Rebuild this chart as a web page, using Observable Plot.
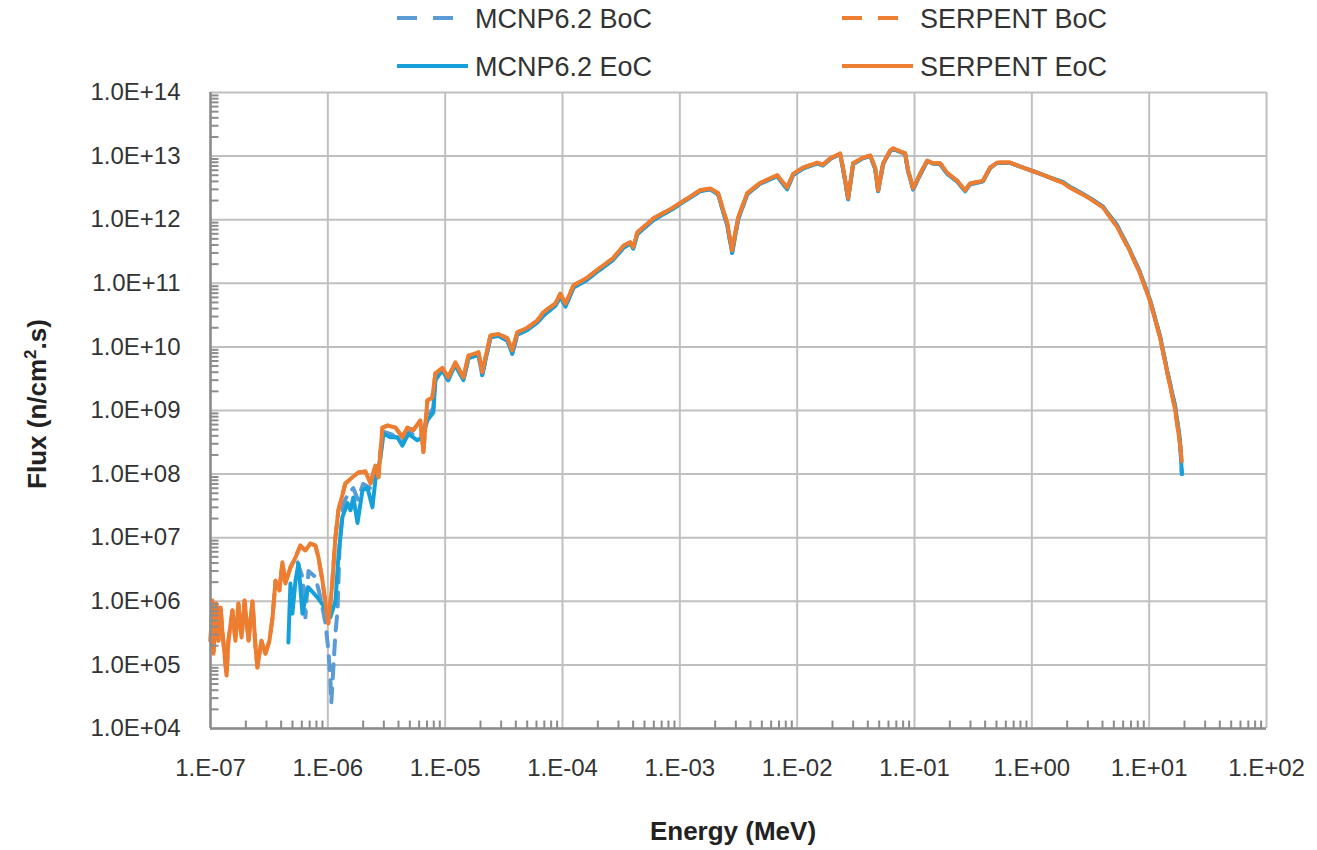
<!DOCTYPE html>
<html>
<head>
<meta charset="utf-8">
<script src="https://cdn.jsdelivr.net/npm/d3@7"></script>
<script src="https://cdn.jsdelivr.net/npm/@observablehq/plot@0.6"></script>
<style>
  body { margin: 0; background: #fff; }
  #wrap { position: relative; width: 1317px; height: 850px; font-family: "Liberation Sans", Arial, sans-serif; }
  #wrap > svg { position: absolute; left: 0; top: 0; }
</style>
</head>
<body>
<div id="wrap"></div>
<script>
// ---------- data (energy in MeV, flux in n/cm2.s) ----------
const serpentLowE = [1.00e-7,1.04e-7,1.06e-7,1.12e-7,1.17e-7,1.22e-7,1.26e-7,1.37e-7,1.42e-7,1.54e-7,1.63e-7,1.73e-7,1.84e-7,1.95e-7,2.11e-7,2.28e-7,2.42e-7,2.51e-7,2.72e-7,2.94e-7,3.18e-7,3.38e-7,3.58e-7,3.87e-7,4.10e-7,4.35e-7,4.80e-7,5.30e-7,5.84e-7,6.44e-7,7.11e-7,7.84e-7,8.32e-7,9.00e-7,9.73e-7,1.01e-6,1.09e-6,1.16e-6,1.23e-6,1.41e-6,1.62e-6,1.82e-6,2.09e-6,2.31e-6,2.54e-6,2.70e-6,2.92e-6,3.22e-6,3.77e-6,4.32e-6,4.76e-6,5.36e-6,6.15e-6,6.52e-6,7.05e-6,7.78e-6];
const serpentLowEoC = [2.4e5,1.03e6,1.5e5,9.2e5,2.4e5,8.0e5,3.5e5,6.8e4,2.4e5,7.2e5,2.4e5,9.2e5,2.7e5,1.03e6,2.4e5,1.0e6,1.9e5,9.1e4,2.4e5,1.5e5,2.4e5,5.6e5,2.1e6,1.48e6,4.1e6,1.9e6,3.4e6,4.9e6,7.5e6,6.3e6,8.1e6,7.5e6,4.9e6,2.1e6,7.2e5,4.5e5,1.9e6,1.0e7,2.7e7,7.1e7,8.9e7,1.06e8,1.1e8,7.1e7,1.36e8,8.9e7,5.4e8,5.8e8,5.4e8,3.8e8,5.4e8,4.9e8,7.0e8,2.2e8,1.44e9,1.6e9];
const serpentLowBoC = [2.4e5,1.03e6,1.5e5,9.2e5,2.4e5,8.0e5,3.5e5,6.8e4,2.4e5,7.2e5,2.4e5,9.2e5,2.7e5,1.03e6,2.4e5,1.0e6,1.9e5,9.1e4,2.4e5,1.5e5,2.4e5,5.6e5,2.1e6,1.48e6,4.1e6,1.9e6,3.4e6,4.9e6,7.5e6,6.3e6,8.1e6,7.5e6,4.9e6,2.1e6,7.2e5,4.5e5,1.9e6,1.0e7,2.7e7,7.1e7,8.9e7,1.06e8,1.1e8,7.1e7,1.36e8,8.9e7,5.4e8,5.8e8,5.4e8,3.8e8,5.4e8,4.9e8,7.0e8,2.2e8,1.44e9,1.6e9];

const mcnpEoCLowE = [4.61e-7,4.80e-7,4.99e-7,5.30e-7,5.62e-7,6.08e-7,6.44e-7,6.84e-7,8.15e-7,9.55e-7,1.05e-6,1.16e-6,1.23e-6,1.33e-6,1.47e-6,1.56e-6,1.65e-6,1.79e-6,1.97e-6,2.17e-6,2.40e-6,2.54e-6,2.81e-6,2.98e-6,3.41e-6,3.92e-6,4.32e-6,4.86e-6,5.80e-6,6.40e-6,7.05e-6,7.93e-6];
const mcnpEoCLow = [2.25e5,1.9e6,6.4e5,2.1e6,3.9e6,6.4e5,1.15e6,1.65e6,1.15e6,7.7e5,5.6e5,1.0e6,4.9e6,2.1e7,3.5e7,2.7e7,4.3e7,1.7e7,5.5e7,6.2e7,3.0e7,7.9e7,1.8e8,4.3e8,3.8e8,3.8e8,2.8e8,4.3e8,3.4e8,3.8e8,7.0e8,9.3e8];

const mcnpBoCLowE = [5.51e-7,6.08e-7,6.44e-7,6.84e-7,7.84e-7,8.65e-7,9.55e-7,1.01e-6,1.05e-6,1.07e-6,1.12e-6,1.16e-6,1.21e-6,1.26e-6,1.36e-6,1.50e-6,1.65e-6,1.80e-6,2.00e-6,2.30e-6,2.54e-6,2.85e-6,3.00e-6,3.50e-6,4.30e-6,4.90e-6,5.80e-6,6.40e-6,7.05e-6,7.93e-6];
const mcnpBoCLow = [4.1e6,2.4e6,5.6e5,3.0e6,2.4e6,1.15e6,4.5e5,1.7e5,6.3e4,2.5e4,1.05e5,3.1e5,7.2e5,8.0e6,3.5e7,5.0e7,6.0e7,4.0e7,7.0e7,6.0e7,9.0e7,2.5e8,4.6e8,4.2e8,3.2e8,4.6e8,3.8e8,4.2e8,8.0e8,1.1e9];

const hiE = [8.25e-6,9.47e-6,1.06e-5,1.22e-5,1.43e-5,1.58e-5,1.92e-5,2.07e-5,2.43e-5,2.84e-5,3.39e-5,3.73e-5,4.12e-5,5.01e-5,6.10e-5,6.86e-5,7.57e-5,8.68e-5,9.57e-5,1.06e-4,1.24e-4,1.63e-4,2.10e-4,2.71e-4,3.30e-4,3.78e-4,4.01e-4,4.34e-4,5.93e-4,8.79e-4,1.16e-3,1.49e-3,1.82e-3,2.12e-3,2.54e-3,2.79e-3,3.14e-3,3.75e-3,4.84e-3,6.76e-3,8.22e-3,9.25e-3,1.13e-2,1.48e-2,1.66e-2,1.91e-2,2.32e-2,2.46e-2,2.72e-2,3.00e-2,3.65e-2,4.19e-2,4.62e-2,4.90e-2,5.40e-2,6.20e-2,6.57e-2,8.32e-2,8.83e-2,9.74e-2,0.112,0.128,0.144,0.165,0.193,0.231,0.270,0.298,0.384,0.441,0.506,0.652,0.841,1.11,1.43,1.84,2.11,3.13,4.04,5.32,6.86,8.35,10.2,12.4,14.5,16.6,18.3,19.0];
const serpentHi = [3.8e9,4.7e9,3.3e9,5.7e9,3.3e9,7.3e9,8.2e9,4.0e9,1.5e10,1.6e10,1.36e10,8.8e9,1.7e10,2.0e10,2.6e10,3.5e10,4.0e10,4.8e10,6.9e10,4.8e10,9.2e10,1.23e11,1.77e11,2.5e11,3.9e11,4.4e11,3.7e11,6.3e11,1.04e12,1.56e12,2.15e12,2.9e12,3.1e12,2.6e12,8.7e11,3.3e11,1.08e12,2.6e12,3.8e12,5.0e12,3.2e12,5.3e12,6.6e12,7.9e12,7.3e12,9.2e12,1.1e13,6.6e12,2.2e12,7.7e12,9.5e12,1.02e13,6.6e12,2.9e12,7.7e12,1.22e13,1.32e13,1.1e13,5.9e12,3.1e12,5.3e12,8.5e12,7.7e12,7.7e12,5.3e12,4.1e12,2.9e12,3.7e12,4.1e12,6.6e12,7.9e12,7.9e12,6.6e12,5.5e12,4.6e12,3.8e12,3.2e12,2.15e12,1.56e12,7.8e11,3.2e11,1.43e11,5.2e10,1.4e10,3.4e9,1.07e9,3.0e8,1.6e8];
const mcnpHi = [3.0e9,4.3e9,3.0e9,5.2e9,3.0e9,6.6e9,7.6e9,3.6e9,1.4e10,1.5e10,1.25e10,7.8e9,1.55e10,1.85e10,2.4e10,3.1e10,3.6e10,4.4e10,6.2e10,4.3e10,8.5e10,1.15e11,1.65e11,2.35e11,3.6e11,4.2e11,3.5e11,5.9e11,9.8e11,1.5e12,2.1e12,2.8e12,3.0e12,2.5e12,8.0e11,3.0e11,1.0e12,2.5e12,3.7e12,4.8e12,3.0e12,5.1e12,6.4e12,7.7e12,7.1e12,9.0e12,1.08e13,6.3e12,2.1e12,7.5e12,9.3e12,1.0e13,6.3e12,2.8e12,7.5e12,1.2e13,1.3e13,1.08e13,5.7e12,3.0e12,5.1e12,8.3e12,7.6e12,7.5e12,5.1e12,4.0e12,2.8e12,3.6e12,4.0e12,6.5e12,7.8e12,7.8e12,6.6e12,5.5e12,4.6e12,3.9e12,3.3e12,2.2e12,1.6e12,8.2e11,3.3e11,1.5e11,5.4e10,1.45e10,3.6e9,1.2e9,3.5e8,1.0e8];

const xTicks = [1e-7,1e-6,1e-5,1e-4,1e-3,1e-2,1e-1,1e0,1e1,1e2];
const yTicks = [1e4,1e5,1e6,1e7,1e8,1e9,1e10,1e11,1e12,1e13,1e14];
const seriesNames = ["MCNP6.2 BoC","SERPENT BoC","MCNP6.2 EoC","SERPENT EoC"];

// ---------- build tables ----------
function rows(es, fs) {
  const n = Math.min(es.length, fs.length);
  const out = [];
  for (let i = 0; i < n; i++) out.push({E: es[i], F: fs[i]});
  return out;
}
const mcnpBoC = rows(mcnpBoCLowE, mcnpBoCLow).concat(rows(hiE, mcnpHi));
const mcnpEoC = rows(mcnpEoCLowE, mcnpEoCLow).concat(rows(hiE, mcnpHi));
const serpBoC = rows(serpentLowE, serpentLowBoC).concat(rows(hiE, serpentHi));
const serpEoC = rows(serpentLowE, serpentLowEoC).concat(rows(hiE, serpentHi));

const minorX = [], minorY = [];
for (let k = -7; k < 2; k++) for (let m = 2; m <= 9; m++) minorX.push(m * Math.pow(10, k));
for (let k = 4; k < 14; k++) for (let m = 2; m <= 9; m++) minorY.push(m * Math.pow(10, k));

const pad2 = n => String(Math.abs(n)).padStart(2, "0");
const fmtX = d => { const e = Math.round(Math.log10(d)); return `1.E${e < 0 ? "-" : "+"}${pad2(e)}`; };
const fmtY = d => { const e = Math.round(Math.log10(d)); return `1.0E${e < 0 ? "-" : "+"}${pad2(e)}`; };

const C = {mBoC: "#5b9bd5", mEoC: "#16a0da", s: "#ed7d31"};
const tickRight = {draw(ctx) { ctx.moveTo(0, 0); ctx.lineTo(8, 0); }};
const tickUp = {draw(ctx) { ctx.moveTo(0, 0); ctx.lineTo(0, -8); }};
const axisGray = "#8c8c8c";
const LW = 4;

const chart = Plot.plot({
  width: 1317, height: 850,
  marginLeft: 210, marginRight: 51, marginTop: 92, marginBottom: 122,
  x: {type: "log", domain: [1e-7, 1e2]},
  y: {type: "log", domain: [1e4, 1e14]},
  style: {fontFamily: "'Liberation Sans', Arial, sans-serif", fontSize: "24px", color: "#333", background: "transparent"},
  marks: [
    Plot.ruleX(xTicks, {stroke: "#c0c0c0", strokeWidth: 2}),
    Plot.ruleY(yTicks, {stroke: "#c0c0c0", strokeWidth: 2}),
    Plot.line(mcnpBoC, {x: "E", y: "F", stroke: C.mBoC, strokeWidth: LW, strokeDasharray: "14,10", strokeLinejoin: "round"}),
    Plot.line(serpBoC, {x: "E", y: "F", stroke: C.s, strokeWidth: LW, strokeDasharray: "14,10", strokeLinejoin: "round"}),
    Plot.line(mcnpEoC, {x: "E", y: "F", stroke: C.mEoC, strokeWidth: LW, strokeLinejoin: "round"}),
    Plot.line(serpEoC, {x: "E", y: "F", stroke: C.s, strokeWidth: LW, strokeLinejoin: "round"}),
    Plot.ruleX([1e-7], {stroke: axisGray, strokeWidth: 2.5}),
    Plot.ruleY([1e4], {stroke: axisGray, strokeWidth: 2.5}),
    Plot.dot(minorY, {x: () => 1e-7, y: d => d, symbol: tickRight, stroke: axisGray, strokeWidth: 2, fill: "none"}),
    Plot.dot(minorX, {x: d => d, y: () => 1e4, symbol: tickUp, stroke: axisGray, strokeWidth: 2, fill: "none"}),
    Plot.axisX(xTicks, {tickSize: 0, tickPadding: 30, tickFormat: fmtX, label: null, fontSize: 24}),
    Plot.axisY(yTicks, {tickSize: 0, tickPadding: 30, tickFormat: fmtY, label: null, fontSize: 24})
  ]
});
const wrap = document.getElementById("wrap");
wrap.appendChild(chart);

// ---------- overlay: legend and axis titles ----------
const ov = d3.select(wrap).append("svg")
  .attr("width", 1317).attr("height", 850)
  .style("pointer-events", "none")
  .attr("font-family", "'Liberation Sans', Arial, sans-serif");

const legendItems = [
  {name: seriesNames[0], color: C.mBoC, dash: "20,16", x0: 397, x1: 456, y: 18, tx: 475},
  {name: seriesNames[1], color: C.s, dash: "20,16", x0: 842, x1: 901, y: 18, tx: 920},
  {name: seriesNames[2], color: C.mEoC, dash: null, x0: 397, x1: 468, y: 66, tx: 475},
  {name: seriesNames[3], color: C.s, dash: null, x0: 842, x1: 913, y: 66, tx: 920}
];
for (const it of legendItems) {
  ov.append("line").attr("x1", it.x0).attr("x2", it.x1).attr("y1", it.y).attr("y2", it.y)
    .attr("stroke", it.color).attr("stroke-width", 4)
    .attr("stroke-dasharray", it.dash);
  ov.append("text").attr("x", it.tx).attr("y", it.y + 10).attr("font-size", 27)
    .attr("fill", "#333").text(it.name);
}

ov.append("text").attr("x", 733).attr("y", 840).attr("text-anchor", "middle")
  .attr("font-size", 26).attr("font-weight", "bold").attr("fill", "#222").text("Energy (MeV)");

const yt = ov.append("text").attr("transform", "translate(46,404) rotate(-90)")
  .attr("text-anchor", "middle").attr("font-size", 26).attr("font-weight", "bold").attr("fill", "#222");
yt.append("tspan").text("Flux (n/cm");
yt.append("tspan").attr("dy", -10).attr("font-size", 17).text("2");
yt.append("tspan").attr("dy", 10).text(".s)");
</script>
</body>
</html>
